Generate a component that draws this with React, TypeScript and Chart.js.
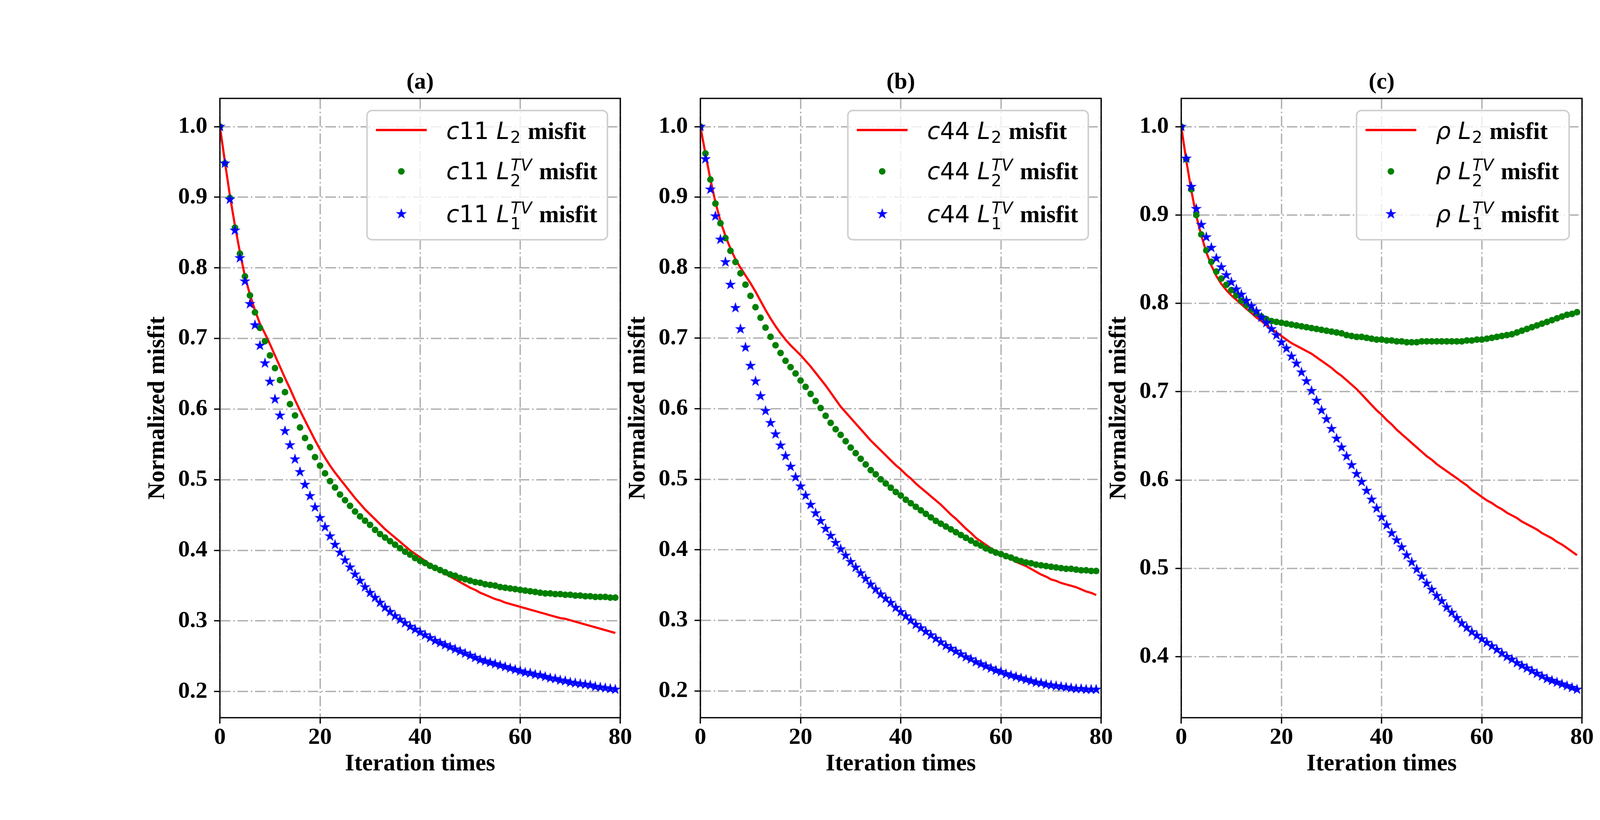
import React, { useEffect, useRef } from "react"
import { Chart, registerables } from "chart.js"

Chart.register(...registerables)

const SERIF = "'Liberation Serif', 'Times New Roman', serif"
const MATH = "'DejaVu Sans', sans-serif"

// iteration index for every series (0 .. 79)
const iterations = Array.from({ length: 80 }, (_, i) => i)
const xTicks = [0, 20, 40, 60, 80]
const yTicksAB = [0.2, 0.3, 0.4, 0.5, 0.6, 0.7, 0.8, 0.9, 1.0]
const yTicksC = [0.4, 0.5, 0.6, 0.7, 0.8, 0.9, 1.0]

const legendSubs = ["2", "2", "1"]
const legendSups = ["", "TV", "TV"]

// (a) c11
const c11L2 = [
    1.000, 0.950, 0.902, 0.860, 0.822, 0.788, 0.762, 0.740, 0.721, 0.707,
    0.692, 0.676, 0.660, 0.644, 0.629, 0.613, 0.598, 0.584, 0.570, 0.556,
    0.543, 0.531, 0.520, 0.510, 0.501, 0.492, 0.483, 0.474, 0.466, 0.458,
    0.451, 0.444, 0.437, 0.430, 0.424, 0.418, 0.412, 0.406, 0.400, 0.395,
    0.390, 0.385, 0.380, 0.376, 0.371, 0.367, 0.363, 0.359, 0.355, 0.351,
    0.347, 0.344, 0.340, 0.337, 0.334, 0.331, 0.329, 0.326, 0.324, 0.322,
    0.320, 0.318, 0.316, 0.314, 0.312, 0.310, 0.308, 0.306, 0.304, 0.303,
    0.301, 0.299, 0.297, 0.295, 0.293, 0.291, 0.289, 0.287, 0.285, 0.283,
]
const c11L2TV = [
    1.000, 0.948, 0.899, 0.857, 0.820, 0.788, 0.761, 0.737, 0.715, 0.696,
    0.676, 0.658, 0.641, 0.624, 0.607, 0.591, 0.574, 0.559, 0.546, 0.532,
    0.520, 0.509, 0.498, 0.489, 0.479, 0.471, 0.463, 0.455, 0.448, 0.442,
    0.436, 0.429, 0.423, 0.418, 0.413, 0.408, 0.403, 0.398, 0.394, 0.389,
    0.385, 0.382, 0.378, 0.375, 0.372, 0.369, 0.366, 0.364, 0.361, 0.359,
    0.357, 0.355, 0.354, 0.352, 0.351, 0.350, 0.348, 0.347, 0.346, 0.345,
    0.344, 0.343, 0.342, 0.341, 0.340, 0.339, 0.339, 0.338, 0.338, 0.337,
    0.337, 0.336, 0.336, 0.335, 0.335, 0.334, 0.334, 0.334, 0.333, 0.333,
]
const c11L1TV = [
    1.000, 0.948, 0.897, 0.853, 0.814, 0.781, 0.749, 0.719, 0.690, 0.665,
    0.639, 0.614, 0.591, 0.569, 0.549, 0.529, 0.511, 0.493, 0.477, 0.461,
    0.446, 0.433, 0.420, 0.408, 0.397, 0.386, 0.376, 0.366, 0.357, 0.348,
    0.340, 0.333, 0.326, 0.319, 0.313, 0.307, 0.302, 0.297, 0.292, 0.288,
    0.284, 0.280, 0.276, 0.272, 0.269, 0.266, 0.263, 0.260, 0.257, 0.254,
    0.251, 0.248, 0.245, 0.243, 0.241, 0.239, 0.237, 0.235, 0.233, 0.231,
    0.229, 0.227, 0.226, 0.224, 0.223, 0.221, 0.219, 0.218, 0.216, 0.215,
    0.213, 0.212, 0.211, 0.210, 0.209, 0.207, 0.206, 0.205, 0.204, 0.203,
]

// (b) c44
const c44L2 = [
    1.000, 0.962, 0.925, 0.893, 0.866, 0.845, 0.827, 0.812, 0.800, 0.789,
    0.778, 0.766, 0.753, 0.740, 0.728, 0.717, 0.707, 0.698, 0.690, 0.683,
    0.676, 0.668, 0.660, 0.651, 0.642, 0.633, 0.623, 0.613, 0.603, 0.595,
    0.587, 0.579, 0.571, 0.563, 0.555, 0.548, 0.541, 0.534, 0.527, 0.520,
    0.514, 0.507, 0.501, 0.494, 0.488, 0.482, 0.476, 0.470, 0.464, 0.457,
    0.450, 0.444, 0.437, 0.430, 0.424, 0.417, 0.412, 0.407, 0.402, 0.398,
    0.394, 0.390, 0.387, 0.383, 0.380, 0.377, 0.373, 0.369, 0.365, 0.362,
    0.358, 0.356, 0.353, 0.351, 0.349, 0.347, 0.344, 0.341, 0.339, 0.336,
]
const c44L2TV = [
    1.000, 0.962, 0.925, 0.891, 0.863, 0.842, 0.824, 0.808, 0.792, 0.776,
    0.760, 0.744, 0.729, 0.715, 0.702, 0.690, 0.679, 0.668, 0.659, 0.650,
    0.640, 0.631, 0.621, 0.611, 0.601, 0.590, 0.580, 0.571, 0.563, 0.554,
    0.545, 0.537, 0.529, 0.521, 0.513, 0.507, 0.500, 0.494, 0.488, 0.482,
    0.477, 0.471, 0.466, 0.461, 0.456, 0.451, 0.446, 0.441, 0.437, 0.433,
    0.429, 0.425, 0.421, 0.417, 0.413, 0.409, 0.406, 0.402, 0.399, 0.396,
    0.394, 0.391, 0.389, 0.386, 0.384, 0.382, 0.381, 0.379, 0.378, 0.377,
    0.376, 0.375, 0.374, 0.373, 0.373, 0.372, 0.371, 0.371, 0.370, 0.370,
]
const c44L1TV = [
    1.000, 0.954, 0.911, 0.873, 0.840, 0.808, 0.776, 0.743, 0.713, 0.687,
    0.661, 0.639, 0.618, 0.597, 0.580, 0.564, 0.548, 0.533, 0.518, 0.503,
    0.490, 0.477, 0.464, 0.452, 0.441, 0.430, 0.420, 0.410, 0.401, 0.392,
    0.383, 0.375, 0.367, 0.359, 0.351, 0.344, 0.337, 0.331, 0.325, 0.318,
    0.312, 0.306, 0.300, 0.294, 0.289, 0.284, 0.279, 0.274, 0.269, 0.264,
    0.260, 0.256, 0.252, 0.248, 0.245, 0.241, 0.238, 0.235, 0.232, 0.229,
    0.227, 0.224, 0.222, 0.220, 0.218, 0.216, 0.214, 0.212, 0.211, 0.209,
    0.208, 0.207, 0.206, 0.205, 0.204, 0.203, 0.203, 0.202, 0.202, 0.202,
]

// (c) rho
const rhoL2 = [
    1.000, 0.962, 0.928, 0.899, 0.877, 0.858, 0.843, 0.831, 0.822, 0.815,
    0.809, 0.804, 0.799, 0.794, 0.789, 0.784, 0.780, 0.775, 0.771, 0.767,
    0.763, 0.759, 0.755, 0.752, 0.749, 0.746, 0.743, 0.739, 0.735, 0.731,
    0.727, 0.722, 0.718, 0.713, 0.708, 0.703, 0.697, 0.691, 0.685, 0.679,
    0.674, 0.668, 0.663, 0.657, 0.652, 0.647, 0.642, 0.637, 0.632, 0.627,
    0.623, 0.618, 0.614, 0.610, 0.606, 0.602, 0.598, 0.594, 0.589, 0.585,
    0.581, 0.577, 0.574, 0.570, 0.567, 0.563, 0.560, 0.557, 0.553, 0.550,
    0.547, 0.544, 0.540, 0.537, 0.534, 0.530, 0.527, 0.523, 0.519, 0.515,
]
const rhoL2TV = [
    1.000, 0.963, 0.929, 0.900, 0.878, 0.860, 0.847, 0.836, 0.828, 0.821,
    0.815, 0.809, 0.803, 0.798, 0.793, 0.789, 0.785, 0.782, 0.780, 0.779,
    0.778, 0.777, 0.776, 0.775, 0.774, 0.773, 0.772, 0.771, 0.770, 0.769,
    0.768, 0.767, 0.766, 0.764, 0.763, 0.762, 0.762, 0.761, 0.760, 0.759,
    0.759, 0.758, 0.758, 0.757, 0.757, 0.756, 0.756, 0.756, 0.757, 0.757,
    0.757, 0.757, 0.757, 0.757, 0.757, 0.757, 0.757, 0.758, 0.758, 0.759,
    0.759, 0.760, 0.761, 0.762, 0.763, 0.764, 0.765, 0.767, 0.769, 0.771,
    0.773, 0.775, 0.777, 0.779, 0.781, 0.783, 0.785, 0.787, 0.788, 0.790,
]
const rhoL1TV = [
    1.000, 0.964, 0.932, 0.907, 0.889, 0.875, 0.863, 0.851, 0.841, 0.832,
    0.824, 0.816, 0.810, 0.803, 0.797, 0.791, 0.784, 0.778, 0.771, 0.764,
    0.756, 0.749, 0.740, 0.732, 0.722, 0.712, 0.701, 0.690, 0.679, 0.669,
    0.658, 0.647, 0.637, 0.627, 0.617, 0.607, 0.598, 0.588, 0.578, 0.568,
    0.558, 0.549, 0.540, 0.532, 0.524, 0.515, 0.507, 0.499, 0.491, 0.483,
    0.476, 0.469, 0.463, 0.456, 0.450, 0.444, 0.438, 0.433, 0.428, 0.424,
    0.420, 0.416, 0.412, 0.408, 0.404, 0.400, 0.397, 0.393, 0.390, 0.387,
    0.384, 0.381, 0.378, 0.375, 0.373, 0.371, 0.369, 0.367, 0.365, 0.363,
]

const GRID = "#b0b0b0"
const GRID_DASH = [27, 7, 4, 7]

let starCache: HTMLCanvasElement | null = null
function starImage() {
    if (starCache) return starCache
    const r = 12.5
    const size = 32
    const c = document.createElement("canvas")
    c.width = size
    c.height = size
    const g = c.getContext("2d")!
    g.beginPath()
    for (let i = 0; i < 10; i++) {
        const rad = i % 2 === 0 ? r : r * 0.382
        const a = -Math.PI / 2 + (i * Math.PI) / 5
        const px = size / 2 + rad * Math.cos(a)
        const py = size / 2 + rad * Math.sin(a)
        if (i === 0) g.moveTo(px, py)
        else g.lineTo(px, py)
    }
    g.closePath()
    g.fillStyle = "#0000ff"
    g.fill()
    g.lineWidth = 1.5
    g.strokeStyle = "#0000ff"
    g.stroke()
    starCache = c
    return c
}

// math-like legend label: prefix  L_sub^sup  misfit
function richLabel(ctx: CanvasRenderingContext2D, x: number, base: number, prefix: string, sub: string, sup: string, draw: boolean) {
    let cx = x
    for (const ch of prefix) {
        const italic = !/[0-9]/.test(ch)
        ctx.font = `${italic ? "italic " : ""}60px ${MATH}`
        if (draw) ctx.fillText(ch, cx, base)
        cx += ctx.measureText(ch).width
    }
    ctx.font = `60px ${MATH}`
    cx += ctx.measureText(" ").width
    ctx.font = `italic 60px ${MATH}`
    if (draw) ctx.fillText("L", cx, base)
    cx += ctx.measureText("L").width
    ctx.font = `42px ${MATH}`
    if (draw) ctx.fillText(sub, cx + 2, base + (sup ? 18 : 10))
    let w = ctx.measureText(sub).width + 2
    if (sup) {
        ctx.font = `italic 42px ${MATH}`
        if (draw) ctx.fillText(sup, cx + 3, base - 22)
        w = Math.max(w, ctx.measureText(sup).width + 3)
    }
    cx += w + 3
    ctx.font = `bold 61px ${SERIF}`
    if (draw) ctx.fillText(" misfit", cx, base)
    cx += ctx.measureText(" misfit").width
    return cx - x
}

interface IPanel {
    tag: string
    prefix: string
    l2: number[]
    l2tv: number[]
    l1tv: number[]
    yMin: number
    yMax: number
    yTicks: number[]
    axLeft: number
    axRight: number
}

const PAD_L = 220
const PAD_R = 45
const AX_TOP = 252
const AX_BOTTOM = 1838
const H = 2100

const Panel = ({ tag, prefix, l2, l2tv, l1tv, yMin, yMax, yTicks, axLeft, axRight }: IPanel) => {
    const chartRef = useRef<HTMLCanvasElement | null>(null)
    const width = axRight - axLeft + PAD_L + PAD_R

    useEffect(() => {
        const ctx = chartRef.current?.getContext("2d")
        if (!ctx) return
        const star = starImage()
        const toXY = (arr: number[]) => iterations.map((i) => ({ x: i, y: arr[i] }))

        const decor = {
            id: "decor" + tag,
            afterDatasetsDraw(chart: any) {
                const { ctx: c, chartArea: a } = chart
                c.save()
                c.strokeStyle = "#000"
                c.lineWidth = 3.3
                c.strokeRect(a.left, a.top, a.right - a.left, a.bottom - a.top)
                c.restore()
            },
            afterDraw(chart: any) {
                const { ctx: c, chartArea: a } = chart
                c.save()
                // panel title
                c.fillStyle = "#000"
                c.font = `bold 60px ${SERIF}`
                c.textAlign = "center"
                c.textBaseline = "alphabetic"
                c.fillText(tag, (a.left + a.right) / 2, a.top - 25)

                // legend
                c.textAlign = "left"
                let maxW = 0
                for (let r = 0; r < 3; r++) {
                    maxW = Math.max(maxW, richLabel(c, 0, 0, prefix, legendSubs[r], legendSups[r], false))
                }
                const bw = 203 + maxW + 26
                const bh = 331
                const bx = a.right - 33 - bw
                const by = a.top + 31
                c.beginPath()
                c.roundRect(bx, by, bw, bh, 13)
                c.fillStyle = "rgba(255,255,255,0.8)"
                c.fill()
                c.strokeStyle = "#d0d0d0"
                c.lineWidth = 4
                c.stroke()

                const handleY = [50, 156, 265]
                const baseY = [73, 176, 286]
                // red line handle
                c.strokeStyle = "#ff0000"
                c.lineWidth = 6
                c.beginPath()
                c.moveTo(bx + 23, by + handleY[0])
                c.lineTo(bx + 153, by + handleY[0])
                c.stroke()
                // green dot handle
                c.fillStyle = "#008000"
                c.beginPath()
                c.arc(bx + 88, by + handleY[1], 8.5, 0, Math.PI * 2)
                c.fill()
                // blue star handle
                c.drawImage(star, bx + 88 - star.width / 2, by + handleY[2] - star.height / 2)

                c.fillStyle = "#000"
                for (let r = 0; r < 3; r++) {
                    richLabel(c, bx + 203, by + baseY[r], prefix, legendSubs[r], legendSups[r], true)
                }
                c.restore()
            },
        }

        const gridOpts = {
            color: GRID,
            lineWidth: 3.5,
            tickColor: "#000",
            tickLength: 15,
            tickWidth: 3.3,
            tickBorderDash: [],
        }

        const chart = new Chart(ctx, {
            type: "line",
            data: {
                datasets: [
                    {
                        label: "L2",
                        data: toXY(l2),
                        borderColor: "#ff0000",
                        borderWidth: 5.5,
                        pointRadius: 0,
                        tension: 0,
                        fill: false,
                        clip: 0,
                        order: 2,
                    },
                    {
                        label: "L2TV",
                        data: toXY(l2tv),
                        showLine: false,
                        pointStyle: "circle",
                        pointRadius: 8.5,
                        pointBackgroundColor: "#008000",
                        pointBorderColor: "#008000",
                        pointBorderWidth: 0,
                        clip: 0,
                        order: 1,
                    },
                    {
                        label: "L1TV",
                        data: toXY(l1tv),
                        showLine: false,
                        pointStyle: star,
                        pointRadius: 12,
                        clip: 0,
                        order: 0,
                    },
                ],
            },
            options: {
                animation: false,
                responsive: false,
                devicePixelRatio: 1,
                events: [],
                layout: { padding: { left: 0, right: PAD_R, top: AX_TOP, bottom: 0 } },
                plugins: { legend: { display: false }, tooltip: { enabled: false }, title: { display: false } },
                scales: {
                    x: {
                        type: "linear",
                        min: 0,
                        max: 80,
                        afterBuildTicks: (s: any) => {
                            s.ticks = xTicks.map((v) => ({ value: v }))
                        },
                        afterFit: (s: any) => {
                            s.height = H - AX_BOTTOM
                        },
                        ticks: {
                            color: "#000",
                            padding: 6,
                            maxRotation: 0,
                            font: { family: SERIF, size: 60, weight: "bold", lineHeight: 1 },
                        },
                        grid: gridOpts,
                        border: { display: false, dash: GRID_DASH },
                        title: {
                            display: true,
                            text: "Iteration times",
                            color: "#000",
                            font: { family: SERIF, size: 61, weight: "bold", lineHeight: 1.2 },
                            padding: { top: 0, bottom: 106 },
                        },
                    },
                    y: {
                        type: "linear",
                        min: yMin,
                        max: yMax,
                        afterBuildTicks: (s: any) => {
                            s.ticks = yTicks.map((v) => ({ value: v }))
                        },
                        afterFit: (s: any) => {
                            s.width = PAD_L
                        },
                        ticks: {
                            color: "#000",
                            padding: 17,
                            callback: (v: any) => Number(v).toFixed(1),
                            font: { family: SERIF, size: 60, weight: "bold", lineHeight: 1 },
                        },
                        grid: gridOpts,
                        border: { display: false, dash: GRID_DASH },
                        title: {
                            display: true,
                            text: "Normalized misfit",
                            color: "#000",
                            font: { family: SERIF, size: 61, weight: "bold", lineHeight: 1.2 },
                            padding: { top: 25, bottom: 0 },
                        },
                    },
                },
            },
            plugins: [decor],
        } as any)

        return () => {
            chart.destroy()
        }
    }, [tag, prefix, l2, l2tv, l1tv, yMin, yMax, yTicks])

    return (
        <canvas
            ref={chartRef}
            width={width}
            height={H}
            style={{ position: "absolute", left: axLeft - PAD_L, top: 0, width, height: H }}
        />
    )
}

const App = () => {
    return (
        <div style={{ position: "absolute", left: 0, top: 0, width: 4500, height: 2100, background: "#fff", overflow: "hidden" }}>
            <Panel tag="(a)" prefix="c11" l2={c11L2} l2tv={c11L2TV} l1tv={c11L1TV} yMin={0.163} yMax={1.04} yTicks={yTicksAB} axLeft={563} axRight={1588} />
            <Panel tag="(b)" prefix="c44" l2={c44L2} l2tv={c44L2TV} l1tv={c44L1TV} yMin={0.162} yMax={1.04} yTicks={yTicksAB} axLeft={1793} axRight={2819} />
            <Panel tag="(c)" prefix="ρ" l2={rhoL2} l2tv={rhoL2TV} l1tv={rhoL1TV} yMin={0.331} yMax={1.032} yTicks={yTicksC} axLeft={3024} axRight={4050} />
        </div>
    )
}

export default App
